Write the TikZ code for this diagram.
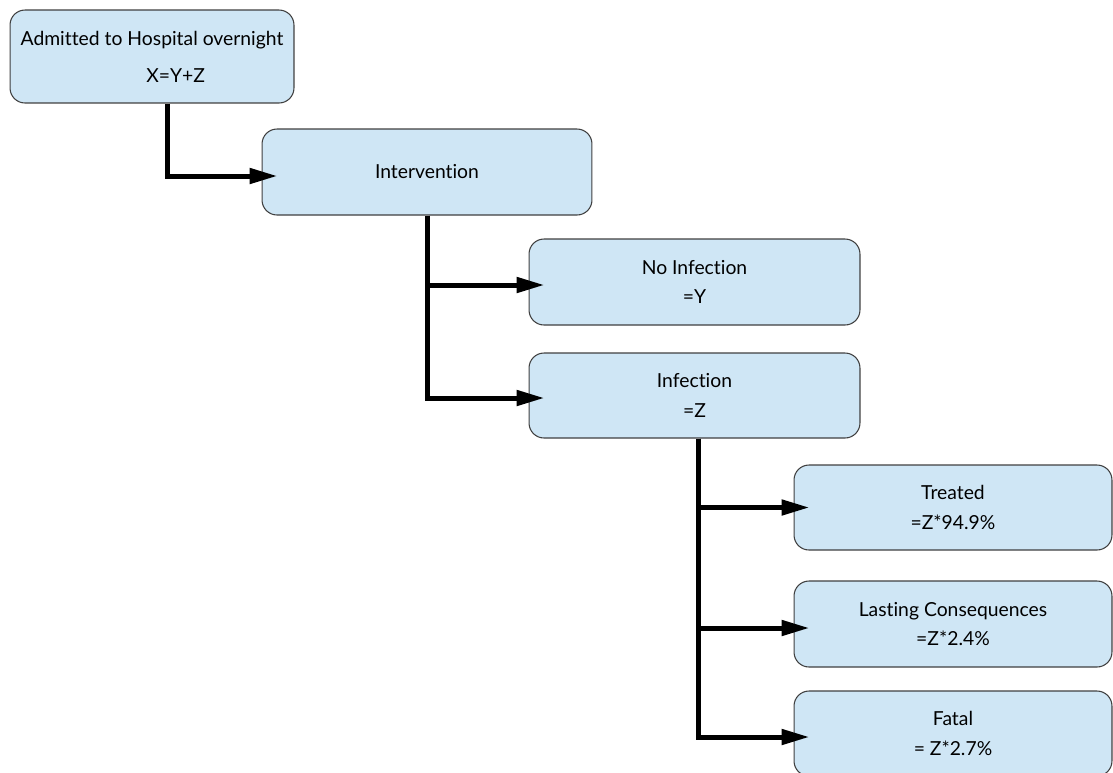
\documentclass[tikz,border=0pt]{standalone}
\usepackage{fontspec}
\setmainfont{Lato}[Ligatures=NoCommon]
\usetikzlibrary{positioning, arrows.meta, calc}
\definecolor{boxfill}{RGB}{207,230,245}
\tikzstyle{Box}=[rectangle, rounded corners=0.3cm, draw=black!75, line width=0.6pt, fill=boxfill, align=center, inner sep=0pt, font=\fontsize{11}{17}\selectfont]
\tikzstyle{Flow}=[line width=0.1cm, -{Triangle[length=0.56cm, width=0.3cm]}, shorten >=-0.32cm]

\begin{document}
\begin{tikzpicture}[x=0.02cm, y=-0.02cm]
		\useasboundingbox (0,0) rectangle (1113,772);
		\node[Box, minimum width=5.68cm, minimum height=1.86cm] (A) at (152,56.5) {Admitted to Hospital overnight\\[4pt]\hspace*{0.95cm}X=Y+Z};
		\node[Box, minimum width=6.6cm, minimum height=1.72cm] (B) at (427,172) {Intervention};
		\node[Box, minimum width=6.62cm, minimum height=1.72cm] (C) at (694.5,282) {No Infection\\=Y};
		\node[Box, minimum width=6.62cm, minimum height=1.7cm] (D) at (694.5,395.5) {Infection\\=Z};
		\node[Box, minimum width=6.36cm, minimum height=1.7cm] (E) at (953,507.5) {Treated\\=Z*94.9\%};
		\node[Box, minimum width=6.36cm, minimum height=1.72cm] (F) at (953,624) {Lasting Consequences\\=Z*2.4\%};
		\node[Box, minimum width=6.36cm, minimum height=1.7cm] (G) at (953,733.5) {Fatal\\= Z*2.7\%};
		% first step
		\draw[Flow] ([xshift=0.32cm]A.south) |- ([yshift=-0.08cm]B.west);
		% infection or not
		\draw[Flow] (B.south) |- ([yshift=-0.06cm]C.west);
		\draw[Flow] (B.south) |- ([yshift=-0.05cm]D.west);
		% outcomes
		\draw[Flow] ([xshift=0.07cm]D.south) |- (E.west);
		\draw[Flow] ([xshift=0.07cm]D.south) |- ([yshift=-0.08cm]F.west);
		\draw[Flow] ([xshift=0.07cm]D.south) |- ([yshift=-0.07cm]G.west);
		\end{tikzpicture}
\end{document}
